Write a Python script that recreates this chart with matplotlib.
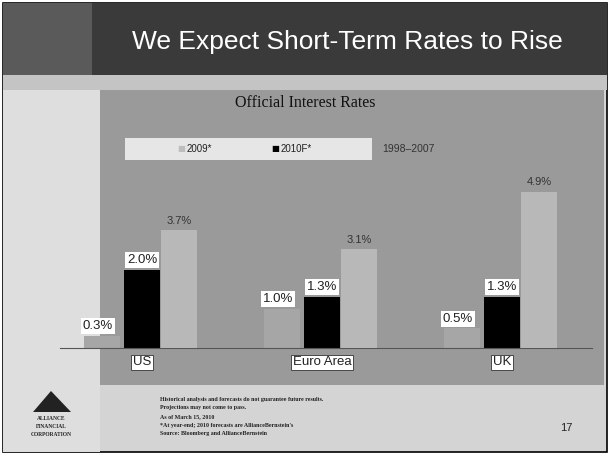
import matplotlib.pyplot as plt
import matplotlib.patches as mpatches
import numpy as np

# chart data
regions = ['US', 'Euro Area', 'UK']
rate_2009 = [0.3, 1.0, 0.5]
rate_2010f = [2.0, 1.3, 1.3]
rate_avg = [3.7, 3.1, 4.9]
series_names = ['2009*', '2010F*', '1998\u20132007']

footnotes = [
    'Historical analysis and forecasts do not guarantee future results.',
    'Projections may not come to pass.',
    'As of March 15, 2010',
    '*At year-end; 2010 forecasts are AllianceBernstein\'s',
    'Source: Bloomberg and AllianceBernstein',
]

W, H = 610, 457
fig = plt.figure(figsize=(W / 100, H / 100), dpi=100)
fig.patch.set_facecolor('white')


def px_rect(x0, y0, x1, y1, color, z=0, **kw):
    # rectangle given in pixel coords (top-left origin)
    r = mpatches.Rectangle((x0 / W, 1 - y1 / H), (x1 - x0) / W, (y1 - y0) / H,
                           transform=fig.transFigure, facecolor=color,
                           edgecolor=kw.pop('edgecolor', 'none'), zorder=z, **kw)
    fig.add_artist(r)


def px_text(x, y, s, **kw):
    fig.text(x / W, 1 - y / H, s, **kw)


# slide background
px_rect(0, 0, W, H, 'white')
px_rect(3, 3, 607, 452, '#d4d4d4', edgecolor='black', linewidth=1.2)
px_rect(3, 3, 607, 75, '#3a3a3a')
px_rect(3, 3, 92, 75, '#5a5a5a')
px_rect(3, 75, 607, 90, '#c4c4c4')
px_rect(3, 90, 100, 452, '#dedede')
px_rect(100, 90, 604, 385, '#9a9a9a')

px_text(347, 42, 'We Expect Short-Term Rates to Rise', color='white',
        fontsize=19, family='Liberation Sans', ha='center', va='center')
px_text(305, 103, 'Official Interest Rates', color='#111111', fontsize=11.5,
        family='Liberation Serif', ha='center', va='center')

# legend (hand made, third entry sits outside the white box)
px_rect(125, 138, 372, 160, '#e6e6e6', z=1)
px_text(181, 149, '\u25a0', color='#bdbdbd', fontsize=6, ha='center', va='center')
px_text(187, 149, series_names[0], color='#222222', fontsize=7,
        family='Liberation Sans', ha='left', va='center')
px_text(275, 149, '\u25a0', color='black', fontsize=6, ha='center', va='center')
px_text(281, 149, series_names[1], color='#222222', fontsize=7,
        family='Liberation Sans', ha='left', va='center')
px_text(382, 149, series_names[2], color='#333333', fontsize=7.5,
        family='Liberation Sans', ha='left', va='center')

# bar chart
ax = fig.add_axes([60 / W, 1 - 348 / H, 532 / W, 178 / H])
ax.set_facecolor('none')
ax2 = ax.twinx()
x = np.arange(len(regions))
w = 0.2
ax.set_xlim(-0.456, 2.5)
ax.set_ylim(0, 4.56)
ax2.set_ylim(0, 5.6)

b1 = ax.bar(x - 0.22, rate_2009, w, color='#a6a6a6', zorder=2)
b2 = ax.bar(x, rate_2010f, w, color='black', zorder=2)
b3 = ax2.bar(x + 0.205, rate_avg, w, color='#b8b8b8', zorder=2)

box = dict(boxstyle='square,pad=0.15', facecolor='white', edgecolor='none')
for xi, v in zip(x, rate_2009):
    ax.text(xi - 0.245, v + 0.1, f'{v:.1f}%', ha='center', va='bottom',
            fontsize=9.5, family='Liberation Sans', color='#222222', bbox=box)
for xi, v in zip(x, rate_2010f):
    ax.text(xi, v + 0.1, f'{v:.1f}%', ha='center', va='bottom',
            fontsize=9.5, family='Liberation Sans', color='#222222', bbox=box)
for xi, v in zip(x, rate_avg):
    ax2.text(xi + 0.205, v + 0.15, f'{v:.1f}%', ha='center', va='bottom',
             fontsize=8, family='Liberation Sans', color='#333333')

for a in (ax, ax2):
    for s in a.spines.values():
        s.set_visible(False)
    a.set_yticks([])
ax.spines['bottom'].set_visible(True)
ax.spines['bottom'].set_color('#555555')
ax.set_xticks(x)
ax.set_xticklabels(regions, fontsize=9.5, family='Liberation Sans', color='#222222')
ax.tick_params(axis='x', length=0, pad=6)
for lab in ax.get_xticklabels():
    lab.set_bbox(dict(boxstyle='square,pad=0.12', facecolor='white',
                      edgecolor='#333333', linewidth=0.6))

# footnotes
for i, line in enumerate(footnotes):
    px_text(160, 399 + i * 8.7, line, fontsize=4.3, family='Liberation Serif',
            weight='bold', color='#222222', ha='left', va='center')
px_text(566, 428, '17', fontsize=8, family='Liberation Sans', color='#222222',
        ha='center', va='center')

# logo
tri = mpatches.Polygon([(33 / W, 1 - 412 / H), (51 / W, 1 - 391 / H), (71 / W, 1 - 412 / H)],
                       closed=True, transform=fig.transFigure, facecolor='#222222',
                       edgecolor='none')
fig.add_artist(tri)
for i, word in enumerate(['ALLIANCE', 'FINANCIAL', 'CORPORATION']):
    px_text(51, 419 + i * 7.5, word, fontsize=4, family='Liberation Serif',
            weight='bold', color='#222222', ha='center', va='center')

fig.savefig('out.png', dpi=100)
